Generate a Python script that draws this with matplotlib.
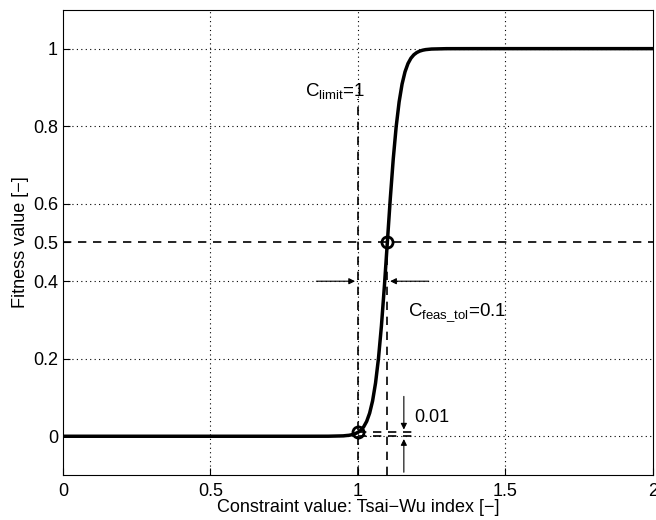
import matplotlib
matplotlib.use("Agg")
import matplotlib.pyplot as plt

plt.rcParams["font.family"] = ["Liberation Sans", "DejaVu Sans"]

# fitness curve
x_curve = [0.0, 0.80, 0.90, 0.95, 0.97, 0.98, 0.99, 1.00, 1.01, 1.02, 1.03, 1.04,
           1.05, 1.06, 1.07, 1.08, 1.09, 1.10, 1.11, 1.12, 1.13, 1.14, 1.15,
           1.16, 1.17, 1.18, 1.19, 1.20, 1.21, 1.22, 1.23, 1.25, 1.30, 1.40, 2.0]
y_curve = [0.0, 0.00001, 0.0001, 0.001, 0.0025, 0.004, 0.0063, 0.01, 0.0157,
           0.0247, 0.0385, 0.0597, 0.0913, 0.1373, 0.2012, 0.2851, 0.3871, 0.5,
           0.6129, 0.7149, 0.7988, 0.8627, 0.9087, 0.9403, 0.9615, 0.9753,
           0.9843, 0.99, 0.9937, 0.996, 0.9975, 0.999, 0.9999, 1.0, 1.0]

c_limit = 1.0
c_tol = 0.1
f_limit = 0.01
x_ticks = [0, 0.5, 1, 1.5, 2]
x_ticklabels = ["0", "0.5", "1", "1.5", "2"]
y_ticks = [0, 0.2, 0.4, 0.5, 0.6, 0.8, 1]
y_ticklabels = ["0", "0.2", "0.4", "0.5", "0.6", "0.8", "1"]

fig = plt.figure(figsize=(6.56, 5.2), dpi=100)
ax = fig.add_axes([0.096, 0.0865, 0.899, 0.8945])

# dotted grid
for xv in [0.5, 1, 1.5]:
    ax.axvline(xv, color="black", ls=(0, (1, 3)), lw=0.8, zorder=0)
for yv in [0, 0.2, 0.4, 0.6, 0.8, 1]:
    ax.axhline(yv, color="black", ls=(0, (1, 3)), lw=0.8, zorder=0)

dash = (0, (5, 4))
ax.axhline(0.5, color="black", ls=dash, lw=1.2)
ax.plot([c_limit, c_limit], [-0.1, 0.87], color="black", ls=dash, lw=1.2)
ax.plot([c_limit + c_tol, c_limit + c_tol], [-0.1, 0.5], color="black", ls=dash, lw=1.2)
ax.plot([c_limit, 1.19], [0, 0], color="black", ls=dash, lw=1.2)
ax.plot([c_limit, 1.19], [f_limit, f_limit], color="black", ls=dash, lw=1.2)

ax.plot(x_curve, y_curve, color="black", lw=2.5)
ax.plot([c_limit, c_limit + c_tol], [f_limit, 0.5], "o", ms=8, mfc="none",
        mec="black", mew=2)

arr = dict(arrowstyle="-|>", color="black", lw=0.8, mutation_scale=9)
ax.annotate("", xy=(c_limit, 0.4), xytext=(0.85, 0.4), arrowprops=arr)
ax.annotate("", xy=(c_limit + c_tol, 0.4), xytext=(1.25, 0.4), arrowprops=arr)
ax.annotate("", xy=(1.156, f_limit), xytext=(1.156, 0.11), arrowprops=arr)
ax.annotate("", xy=(1.156, 0), xytext=(1.156, -0.1), arrowprops=arr)

ax.text(0.82, 0.875, r"C$_{\mathregular{limit}}$=1", fontsize=13.5)
ax.text(1.17, 0.31, r"C$_{\mathregular{feas\_tol}}$=0.1", fontsize=13.5)
ax.text(1.19, 0.037, "0.01", fontsize=13)

ax.set_xlim(0, 2)
ax.set_ylim(-0.1, 1.1)
ax.set_xticks(x_ticks)
ax.set_xticklabels(x_ticklabels)
ax.set_yticks(y_ticks)
ax.set_yticklabels(y_ticklabels)
ax.tick_params(direction="in", labelsize=13, length=5)
ax.tick_params(axis="x", pad=6)
ax.set_xlabel("Constraint value: Tsai\u2212Wu index [\u2212]", fontsize=13, labelpad=-1)
ax.set_ylabel("Fitness value [\u2212]", fontsize=13, labelpad=3)

fig.savefig("out.png", dpi=100)
